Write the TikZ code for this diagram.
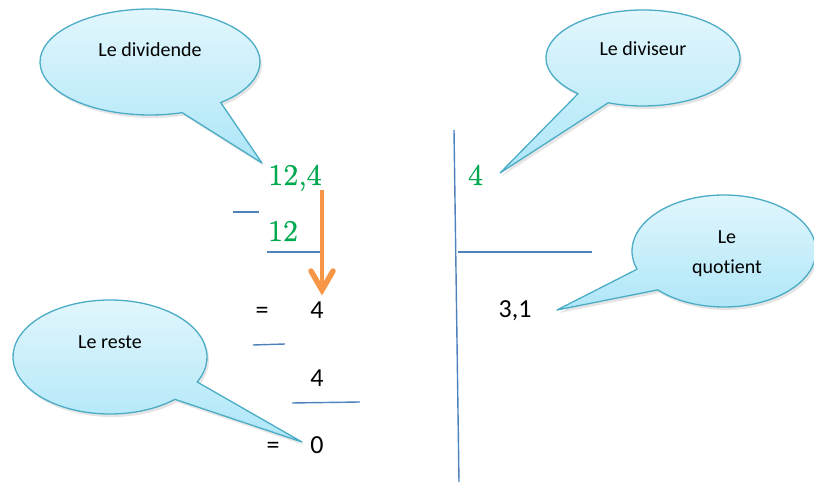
\documentclass[tikz,border=0pt]{standalone}
\usepackage{fontspec}
\setsansfont{Carlito}[Ligatures=NoCommon]
\newfontfamily\greenfont[FakeBold=0.6]{lmroman10-regular.otf}
\usetikzlibrary{calc,arrows.meta}
\definecolor{numgreen}{HTML}{00A94F}
\definecolor{ruleblue}{HTML}{4F81BD}
\definecolor{arroworange}{HTML}{F79646}
\definecolor{calloutedge}{HTML}{4BACC6}
\definecolor{callouttop}{HTML}{E4F7FD}
\definecolor{calloutbottom}{HTML}{ADE6F8}
% #1 cx, #2 cy, #3 rx, #4 ry, #5 start angle, #6 end angle, #7 tip coordinate name
\newcommand{\speechbubble}[7]{%
  \fill[black,opacity=0.10] ($(#1+2,#2-3)+(#5:#3pt and #4pt)$)
    arc[start angle=#5, end angle=#6, x radius=#3pt, y radius=#4pt]
    -- ($(#7)+(2,-3)$) -- cycle;
  \shade[top color=callouttop, bottom color=calloutbottom, draw=calloutedge,
         line width=1.3pt, line join=round]
    ($(#1,#2)+(#5:#3pt and #4pt)$)
    arc[start angle=#5, end angle=#6, x radius=#3pt, y radius=#4pt]
    -- (#7) -- cycle;
}
\begin{document}
\begin{tikzpicture}[x=1pt,y=1pt,
  greennum/.style={font=\greenfont\fontsize{30}{36}\selectfont, text=numgreen, inner sep=0pt, anchor=base},
  blacknum/.style={font=\sffamily\fontsize{26}{31}\selectfont, inner sep=0pt, anchor=base},
  bubbletext/.style={font=\sffamily\fontsize{20}{24}\selectfont, inner sep=0pt, anchor=base},
  rulerline/.style={draw=ruleblue, line width=1.4pt},
  arrowshaft/.style={draw=arroworange, line width=4.5pt},
  arrowhead/.style={draw=arroworange, line width=5.5pt, line join=miter, line cap=round}
]
\useasboundingbox (0,0) rectangle (814,484);

% tips of the callouts
\coordinate (tipDividend) at (262,321);
\coordinate (tipDivisor) at (500,311);
\coordinate (tipRest) at (302,42);
\coordinate (tipQuot) at (557,174);

% callouts
\speechbubble{150}{422}{110}{53}{-50}{287}{tipDividend}
\speechbubble{643}{426}{97}{48}{249}{588}{tipDivisor}
\speechbubble{110}{127}{97}{57}{-26}{312}{tipRest}
\speechbubble{724}{233}{92}{56}{224}{559}{tipQuot}

\node[bubbletext] (tDividend) at (150,427) {Le dividende};
\node[bubbletext] (tDivisor) at (643,428) {Le diviseur};
\node[bubbletext] (tRest) at (110,135) {Le reste};
\node[bubbletext] (tQuotA) at (727,240) {Le};
\node[bubbletext] (tQuotB) at (727,210) {quotient};

% division layout lines
\coordinate (vTop) at (454,354);
\coordinate (vBot) at (459,2);
\draw[rulerline] (vTop) -- (vBot);
\coordinate (hL) at (458,232);
\coordinate (hR) at (592,232);
\draw[rulerline] (hL) -- (hR);

\coordinate (m1a) at (233,272);
\coordinate (m1b) at (259,272);
\draw[rulerline] (m1a) -- (m1b);
\coordinate (u1a) at (267,232);
\coordinate (u1b) at (320,232);
\draw[rulerline] (u1a) -- (u1b);
\coordinate (m2a) at (253,139);
\coordinate (m2b) at (285,140);
\draw[rulerline] (m2a) -- (m2b);
\coordinate (u2a) at (292,81);
\coordinate (u2b) at (360,82);
\draw[rulerline] (u2a) -- (u2b);

% numbers
\node[greennum] (dividend) at (295,299) {12,4};
\node[greennum] (sub1) at (283,243) {12};
\node[greennum] (divisor) at (475.5,299) {4};
\node[blacknum] (eq1) at (262,165) {=};
\node[blacknum] (rem1) at (317,165) {4};
\node[blacknum] (quotient) at (515,166) {3,1};
\node[blacknum] (sub2) at (317,97) {4};
\node[blacknum] (eq2) at (273,30) {=};
\node[blacknum] (rem2) at (317,30) {0};

% orange arrow
\coordinate (arrStart) at (322,294);
\coordinate (arrEnd) at (322,194);
\coordinate (headL) at (311,213);
\coordinate (headR) at (333,213);
\draw[arrowshaft] (arrStart) -- (arrEnd);
\draw[arrowhead] (headL) -- (arrEnd) -- (headR);
\end{tikzpicture}
\end{document}
